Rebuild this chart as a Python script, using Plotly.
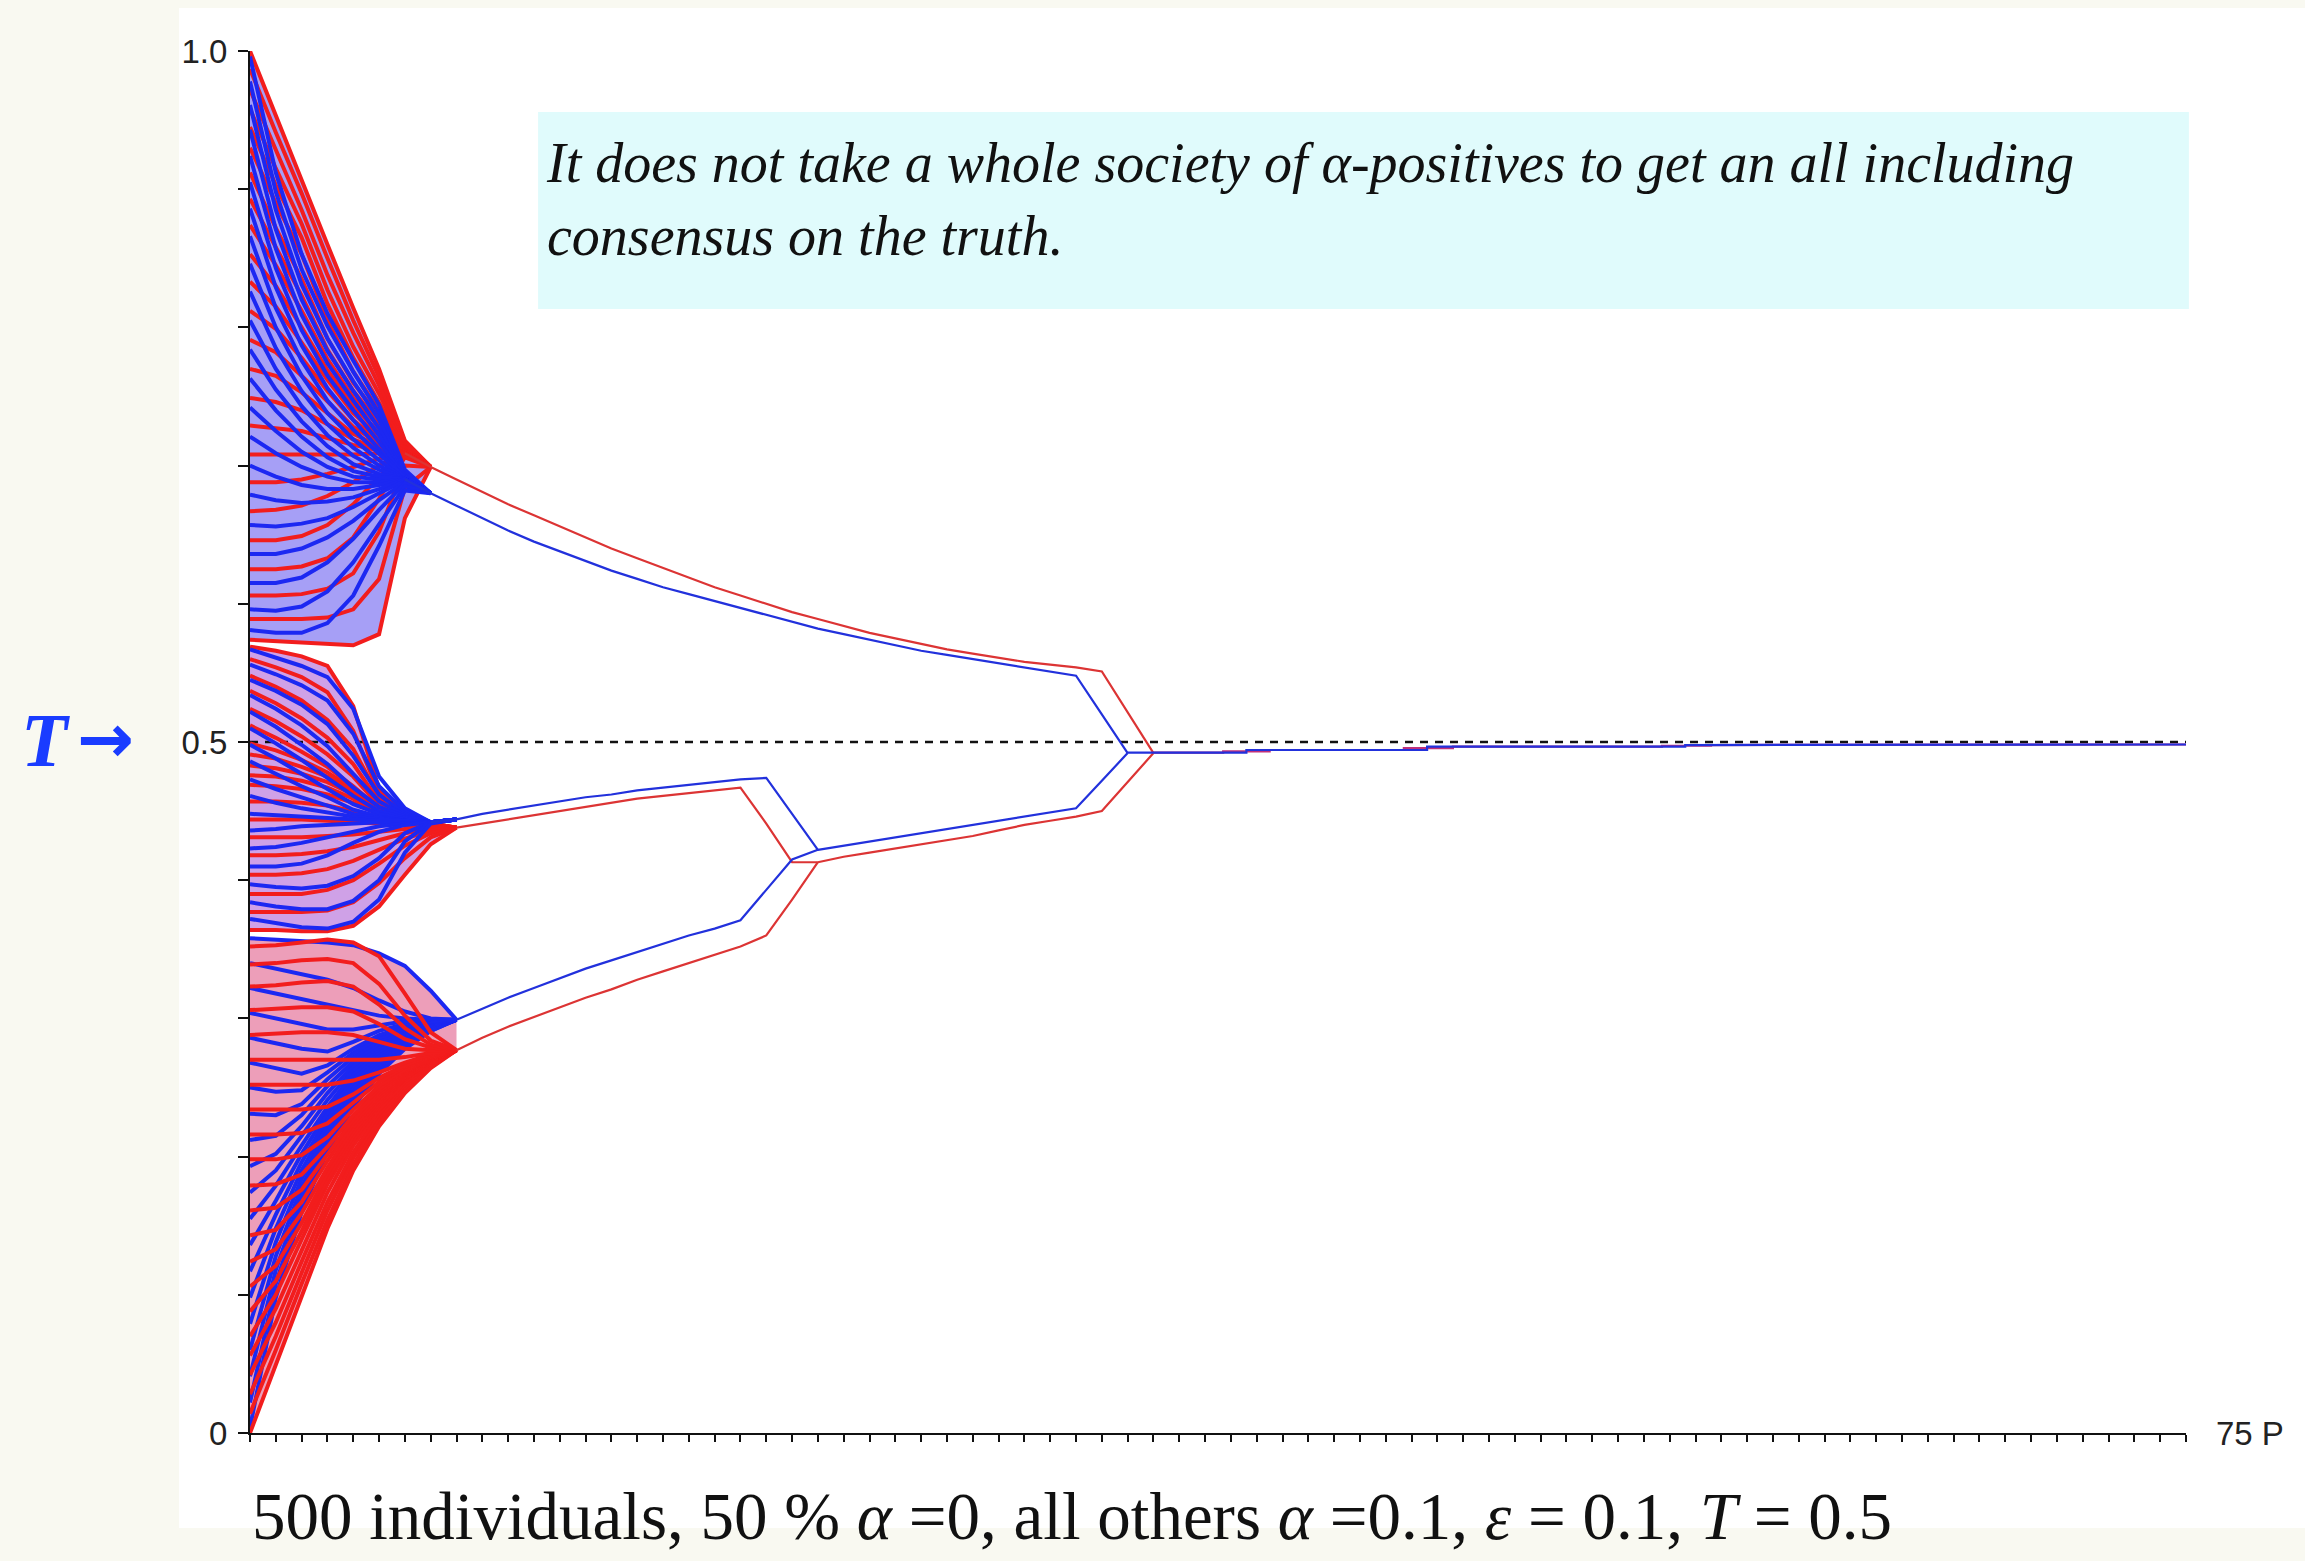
import plotly.graph_objects as go

# ---------------------------------------------------------------------------
# Opinion trajectories: 50 % of the agents with alpha = 0 (red), the others
# with alpha = 0.1 (blue); confidence epsilon = 0.1, truth T = 0.5.
# Values are opinions in [0, 1]; times are periods.
# ---------------------------------------------------------------------------
T_TRUTH = 0.5
LAST_PERIOD = 75
TRUTH_T = [0, LAST_PERIOD]

# --- early fan: individual trajectories running into three clusters --------
FAN_T_UPPER = [0, 1, 2, 3, 4, 5, 6, 7]
FAN_T_LOWER = [0, 1, 2, 3, 4, 5, 6, 7, 8]

RED_UPPER_FAN = [
    [1.000, .953, .907, .860, .814, .770, .718, .699],
    [.987, .941, .897, .850, .805, .764, .717, .699],
    [.972, .928, .885, .838, .796, .758, .716, .699],
    [.958, .915, .875, .827, .786, .752, .714, .699],
    [.945, .903, .865, .817, .778, .746, .713, .699],
    [.930, .890, .853, .805, .768, .740, .712, .699],
    [.912, .872, .835, .792, .760, .735, .711, .699],
    [.893, .858, .823, .784, .754, .731, .711, .699],
    [.874, .845, .812, .777, .749, .728, .710, .699],
    [.853, .830, .800, .769, .743, .724, .710, .699],
    [.833, .815, .789, .762, .738, .721, .710, .699],
    [.812, .799, .778, .754, .733, .718, .709, .699],
    [.791, .782, .765, .746, .728, .716, .709, .699],
    [.770, .765, .753, .738, .723, .714, .709, .699],
    [.749, .746, .740, .730, .719, .712, .709, .699],
    [.729, .727, .725, .720, .715, .711, .709, .699],
    [.708, .708, .708, .708, .708, .709, .709, .699],
    [.688, .688, .690, .694, .699, .705, .709, .699],
    [.667, .668, .671, .678, .688, .700, .709, .699],
    [.646, .646, .649, .657, .672, .692, .708, .699],
    [.625, .625, .627, .633, .648, .676, .706, .699],
    [.606, .606, .607, .611, .622, .652, .700, .699],
    [.589, .589, .589, .590, .596, .618, .684, .699],
    [.574, .573, .572, .571, .570, .578, .662, .699],
]

BLUE_UPPER_FAN = [
    [.996, .912, .853, .810, .776, .744, .697, .680],
    [.978, .898, .842, .801, .768, .738, .695, .680],
    [.961, .885, .831, .792, .761, .733, .694, .680],
    [.943, .871, .820, .783, .754, .727, .693, .680],
    [.924, .857, .809, .774, .747, .722, .692, .680],
    [.905, .843, .798, .765, .740, .717, .692, .680],
    [.886, .829, .787, .756, .733, .712, .691, .680],
    [.866, .814, .776, .747, .726, .708, .691, .680],
    [.846, .800, .765, .738, .719, .704, .690, .680],
    [.826, .785, .754, .730, .713, .700, .690, .680],
    [.805, .770, .743, .722, .707, .697, .690, .680],
    [.784, .755, .732, .714, .701, .694, .690, .680],
    [.763, .740, .721, .706, .696, .692, .690, .680],
    [.742, .725, .710, .699, .692, .690, .690, .680],
    [.721, .709, .699, .692, .688, .688, .690, .680],
    [.700, .692, .686, .683, .683, .686, .690, .680],
    [.679, .675, .673, .674, .677, .683, .690, .680],
    [.657, .656, .658, .662, .670, .680, .689, .680],
    [.636, .636, .640, .648, .660, .675, .688, .680],
    [.615, .615, .619, .630, .647, .668, .687, .680],
    [.596, .595, .598, .609, .630, .658, .685, .680],
    [.581, .579, .579, .586, .606, .642, .682, .680],
]

RED_MID_FAN = [
    [.569, .566, .562, .555, .526, .466, .449, .441, .438],
    [.560, .554, .547, .536, .508, .463, .448, .441, .438],
    [.548, .540, .530, .516, .495, .460, .447, .441, .438],
    [.537, .528, .517, .503, .484, .457, .446, .441, .438],
    [.524, .515, .504, .491, .475, .454, .445, .440, .438],
    [.512, .503, .493, .482, .468, .452, .444, .440, .438],
    [.499, .494, .487, .478, .466, .452, .444, .440, .438],
    [.491, .488, .482, .475, .464, .451, .443, .440, .438],
    [.483, .481, .477, .471, .462, .450, .443, .440, .438],
    [.476, .475, .472, .467, .459, .449, .443, .440, .438],
    [.469, .468, .466, .462, .456, .448, .442, .440, .438],
    [.457, .457, .456, .454, .450, .445, .441, .439, .438],
    [.444, .444, .444, .443, .442, .441, .440, .439, .438],
    [.431, .431, .431, .432, .433, .435, .437, .438, .438],
    [.418, .418, .419, .421, .424, .429, .434, .437, .438],
    [.404, .404, .405, .408, .414, .422, .430, .436, .438],
    [.390, .390, .390, .393, .400, .412, .425, .434, .438],
    [.377, .377, .377, .378, .384, .398, .416, .431, .438],
    [.364, .364, .363, .363, .367, .381, .404, .426, .438],
]

BLUE_MID_FAN = [
    [.567, .561, .555, .547, .524, .475, .452, .442, .444],
    [.556, .549, .541, .530, .506, .468, .450, .442, .444],
    [.545, .537, .527, .513, .490, .462, .448, .442, .444],
    [.534, .524, .512, .497, .477, .457, .447, .442, .444],
    [.522, .511, .498, .484, .467, .453, .446, .442, .444],
    [.510, .499, .487, .474, .461, .450, .445, .442, .444],
    [.498, .488, .477, .466, .455, .448, .444, .442, .444],
    [.486, .477, .468, .460, .451, .446, .443, .442, .444],
    [.473, .466, .460, .454, .448, .445, .443, .442, .444],
    [.461, .456, .452, .449, .446, .444, .443, .442, .444],
    [.448, .447, .446, .445, .444, .443, .443, .442, .444],
    [.436, .437, .439, .440, .441, .442, .442, .442, .444],
    [.423, .424, .427, .431, .435, .439, .441, .442, .444],
    [.410, .410, .412, .418, .427, .435, .440, .442, .444],
    [.397, .395, .394, .396, .403, .416, .434, .442, .444],
    [.384, .381, .379, .379, .385, .400, .428, .442, .444],
    [.372, .369, .366, .365, .370, .386, .420, .441, .444],
]

RED_LOW_FAN = [
    [.000, .050, .100, .148, .190, .222, .246, .264, .277],
    [.014, .060, .108, .154, .194, .225, .248, .265, .277],
    [.028, .070, .116, .161, .199, .228, .250, .266, .277],
    [.042, .080, .124, .167, .203, .231, .252, .267, .277],
    [.056, .090, .132, .174, .208, .234, .254, .268, .277],
    [.070, .100, .140, .180, .212, .237, .256, .269, .277],
    [.088, .110, .146, .184, .215, .239, .257, .269, .277],
    [.106, .121, .152, .188, .218, .241, .258, .270, .277],
    [.124, .133, .159, .192, .221, .243, .259, .270, .277],
    [.143, .147, .167, .197, .224, .245, .260, .271, .277],
    [.161, .163, .176, .202, .227, .247, .261, .271, .277],
    [.179, .180, .187, .207, .230, .249, .262, .271, .277],
    [.198, .198, .201, .214, .234, .251, .263, .272, .277],
    [.216, .216, .217, .224, .239, .254, .265, .272, .277],
    [.234, .234, .234, .236, .245, .257, .266, .273, .277],
    [.252, .252, .252, .252, .255, .261, .268, .274, .277],
    [.270, .270, .270, .270, .270, .270, .272, .275, .277],
    [.288, .289, .290, .290, .288, .283, .278, .277, .277],
    [.306, .307, .308, .308, .305, .296, .285, .279, .277],
    [.323, .324, .326, .327, .323, .310, .293, .281, .277],
    [.339, .340, .342, .343, .340, .325, .302, .284, .277],
    [.352, .353, .355, .357, .355, .345, .318, .290, .277],
]

BLUE_LOW_FAN = [
    [.004, .098, .160, .204, .236, .260, .278, .291, .299],
    [.022, .108, .166, .208, .239, .262, .279, .291, .299],
    [.041, .118, .172, .212, .242, .264, .280, .292, .299],
    [.060, .128, .178, .216, .245, .266, .281, .292, .299],
    [.079, .138, .184, .220, .248, .268, .282, .293, .299],
    [.098, .148, .190, .224, .251, .270, .284, .293, .299],
    [.117, .158, .196, .228, .254, .272, .285, .294, .299],
    [.136, .168, .202, .232, .257, .274, .286, .294, .299],
    [.155, .179, .208, .236, .260, .276, .287, .295, .299],
    [.174, .190, .215, .241, .263, .278, .288, .295, .299],
    [.193, .202, .222, .246, .266, .280, .289, .296, .299],
    [.212, .215, .230, .251, .269, .282, .290, .296, .299],
    [.231, .230, .238, .256, .272, .284, .291, .297, .299],
    [.250, .247, .248, .261, .275, .286, .292, .297, .299],
    [.268, .264, .260, .266, .278, .288, .294, .298, .299],
    [.286, .282, .278, .276, .283, .291, .296, .298, .299],
    [.304, .300, .296, .292, .292, .295, .298, .299, .299],
    [.322, .318, .314, .310, .306, .302, .300, .299, .299],
    [.340, .336, .332, .328, .322, .313, .305, .300, .299],
    [.358, .357, .356, .355, .353, .347, .338, .320, .299],
]

# --- cluster trajectories after the fan -------------------------------------
RED_UPPER_T = list(range(6, 36))
RED_UPPER_V = [.709, .699, .690, .681, .672, .664, .656, .648, .640, .633,
               .626, .619, .612, .606, .600, .594, .589, .584, .579, .575,
               .571, .567, .564, .561, .558, .556, .554, .551, .522, .492]

BLUE_UPPER_T = list(range(6, 35))
BLUE_UPPER_V = [.690, .680, .671, .662, .653, .645, .638, .631, .624, .618,
                .612, .607, .602, .597, .592, .587, .582, .578, .574, .570,
                .566, .563, .560, .557, .554, .551, .548, .520, .492]

BLUE_MID_T = list(range(7, 23))
BLUE_MID_V = [.442, .444, .448, .451, .454, .457, .460, .462, .465, .467,
              .469, .471, .473, .474, .448, .422]

RED_MID_T = list(range(8, 23))
RED_MID_V = [.438, .441, .444, .447, .450, .453, .456, .459, .461, .463,
             .465, .467, .441, .413, .413]

BLUE_LOW_T = list(range(8, 23))
BLUE_LOW_V = [.299, .307, .315, .322, .329, .336, .342, .348, .354, .360,
              .365, .371, .393, .415, .422]

RED_LOW_T = list(range(8, 23))
RED_LOW_V = [.277, .286, .294, .301, .308, .315, .321, .328, .334, .340,
             .346, .352, .360, .386, .413]

BLUE_JOINT_T = list(range(22, 35))
BLUE_JOINT_V = [.422, .425, .428, .431, .434, .437, .440, .443, .446, .449,
                .452, .472, .492]

RED_JOINT_T = list(range(22, 36))
RED_JOINT_V = [.413, .417, .420, .423, .426, .429, .432, .436, .440, .443,
               .446, .450, .471, .492]

# --- final consensus, creeping towards the truth -----------------------------
BLUE_FINAL_T = [34, 38.6, 38.6, 45.6, 45.6, 55.6, 55.6, 75]
BLUE_FINAL_V = [.4923, .4923, .4942, .4942, .4966, .4966, .4978, .4982]

RED_FINAL_T = [35, 37.7, 37.7, 39.5, 39.5, 44.7, 44.7, 46.6, 46.6, 54.7,
               54.7, 56.6, 56.6, 75]
RED_FINAL_V = [.4923, .4923, .4932, .4932, .4942, .4942, .4955, .4955, .4966,
               .4966, .4973, .4973, .4978, .4982]

Y_TICKS = [0, .1, .2, .3, .4, .5, .6, .7, .8, .9, 1.0]
Y_TICK_TEXT = ["0", "", "", "", "", "0.5", "", "", "", "", "1.0"]
X_TICKS = list(range(0, LAST_PERIOD + 1))

RED = "#f21d1d"
BLUE = "#1c28f2"
RED_THIN = "#dc3434"
BLUE_THIN = "#2231dc"


def stack(times, rows):
    """Join several trajectories into one trace, separated by gaps."""
    xs, ys = [], []
    for row in rows:
        xs += list(times) + [None]
        ys += list(row) + [None]
    return xs, ys


def band(times, top_row, bottom_row):
    """Closed outline between the outermost trajectories of a bundle."""
    xs = list(times) + list(reversed(times))
    ys = list(top_row) + list(reversed(bottom_row))
    return xs, ys


def line_trace(x, y, color, width, dash=None):
    return go.Scatter(x=x, y=y, mode="lines",
                      line=dict(color=color, width=width, dash=dash),
                      hoverinfo="skip", showlegend=False)


fig = go.Figure()

# dense bundles: a tint under the individual trajectories
for times, top_row, bottom_row, tint in [
    (FAN_T_UPPER, RED_UPPER_FAN[0], RED_UPPER_FAN[-1], "rgba(60,45,235,0.46)"),
    (FAN_T_LOWER, RED_MID_FAN[0], RED_MID_FAN[-1], "rgba(145,40,200,0.44)"),
    (FAN_T_LOWER, BLUE_LOW_FAN[-1], RED_LOW_FAN[0], "rgba(215,35,95,0.44)"),
]:
    xs, ys = band(times, top_row, bottom_row)
    fig.add_trace(go.Scatter(x=xs, y=ys, mode="lines", fill="toself",
                             fillcolor=tint, line=dict(width=0),
                             hoverinfo="skip", showlegend=False))

# truth level
fig.add_trace(line_trace(TRUTH_T, [T_TRUTH, T_TRUTH], "#111111", 2.4,
                         dash="8px,7px"))

FAN_W = 4.0
for times, rows, color in [
    (FAN_T_UPPER, RED_UPPER_FAN, RED),
    (FAN_T_UPPER, BLUE_UPPER_FAN, BLUE),
    (FAN_T_LOWER, RED_MID_FAN, RED),
    (FAN_T_LOWER, BLUE_MID_FAN, BLUE),
    (FAN_T_LOWER, BLUE_LOW_FAN, BLUE),
    (FAN_T_LOWER, RED_LOW_FAN, RED),
]:
    xs, ys = stack(times, rows)
    fig.add_trace(line_trace(xs, ys, color, FAN_W))

CL_W = 2.2
for t, v, color in [
    (RED_UPPER_T, RED_UPPER_V, RED_THIN),
    (RED_MID_T, RED_MID_V, RED_THIN),
    (RED_LOW_T, RED_LOW_V, RED_THIN),
    (RED_JOINT_T, RED_JOINT_V, RED_THIN),
    (BLUE_UPPER_T, BLUE_UPPER_V, BLUE_THIN),
    (BLUE_MID_T, BLUE_MID_V, BLUE_THIN),
    (BLUE_LOW_T, BLUE_LOW_V, BLUE_THIN),
    (BLUE_JOINT_T, BLUE_JOINT_V, BLUE_THIN),
    (RED_FINAL_T, RED_FINAL_V, "#c0307a"),
    (BLUE_FINAL_T, BLUE_FINAL_V, BLUE_THIN),
]:
    fig.add_trace(line_trace(t, v, color, CL_W))

AXIS_FONT = dict(family="Liberation Sans Narrow, Arial Narrow, Liberation Sans",
                 size=33, color="#222222")
SERIF = "Liberation Serif, Times New Roman, serif"

fig.update_layout(
    width=2305, height=1561,
    margin=dict(l=250, r=119, t=51, b=128),
    paper_bgcolor="#f9f9f1",
    plot_bgcolor="#ffffff",
    showlegend=False,
    xaxis=dict(range=[0, LAST_PERIOD], showgrid=False, zeroline=False,
               showline=True, linecolor="#111111", linewidth=2,
               tickmode="array", tickvals=X_TICKS,
               ticktext=[""] * len(X_TICKS),
               ticks="outside", ticklen=7, tickwidth=2, tickcolor="#111111"),
    yaxis=dict(range=[0, 1], showgrid=False, zeroline=False,
               showline=True, linecolor="#111111", linewidth=2,
               tickmode="array", tickvals=Y_TICKS, ticktext=Y_TICK_TEXT,
               ticks="outside", ticklen=10, tickwidth=2, tickcolor="#111111",
               tickfont=AXIS_FONT, ticklabelstandoff=4),
    shapes=[
        # white panel behind the chart
        dict(type="rect", xref="paper", yref="paper", layer="below",
             x0=-0.0367, x1=1.0615, y0=-0.0687, y1=1.0311,
             fillcolor="#ffffff", line=dict(width=0)),
        # message box
        dict(type="rect", xref="paper", yref="paper", layer="below",
             x0=0.1488, x1=1.0015, y0=0.8133, y1=0.9559,
             fillcolor="#e0fbfc", line=dict(width=0)),
    ],
    annotations=[
        dict(xref="paper", yref="paper", x=0.152, y=0.9425,
             xanchor="left", yanchor="top", align="left", showarrow=False,
             text="<i>It does not take a whole society of α-positives to get an all including"
                  "<br>consensus on the truth.</i>",
             font=dict(family=SERIF, size=56, color="#111111")),
        dict(xref="paper", yref="paper", x=0.0, y=-0.0885,
             xanchor="left", yanchor="bottom", showarrow=False,
             text="500 individuals, 50 % <i>α</i> =0, all others <i>α</i> =0.1, "
                  "<i>ε</i> = 0.1, <i>T</i> = 0.5",
             font=dict(family=SERIF, size=67, color="#111111")),
        dict(xref="paper", yref="y", x=-0.1195, y=T_TRUTH, yshift=2,
             xanchor="left", yanchor="middle", showarrow=False,
             text="<b><i>T</i></b>",
             font=dict(family=SERIF, size=76, color="#1a3cff")),
        dict(xref="paper", yref="y", x=-0.0905, y=T_TRUTH, yshift=4,
             xanchor="left", yanchor="middle", showarrow=False,
             text="<b>→</b>",
             font=dict(family="DejaVu Sans", size=68, color="#1a3cff")),
        dict(xref="x", yref="y", x=LAST_PERIOD, y=0,
             xanchor="left", yanchor="middle", xshift=28, showarrow=False,
             text="75 P", font=AXIS_FONT),
    ],
)

fig.write_html("out.html", config={"displayModeBar": False})
